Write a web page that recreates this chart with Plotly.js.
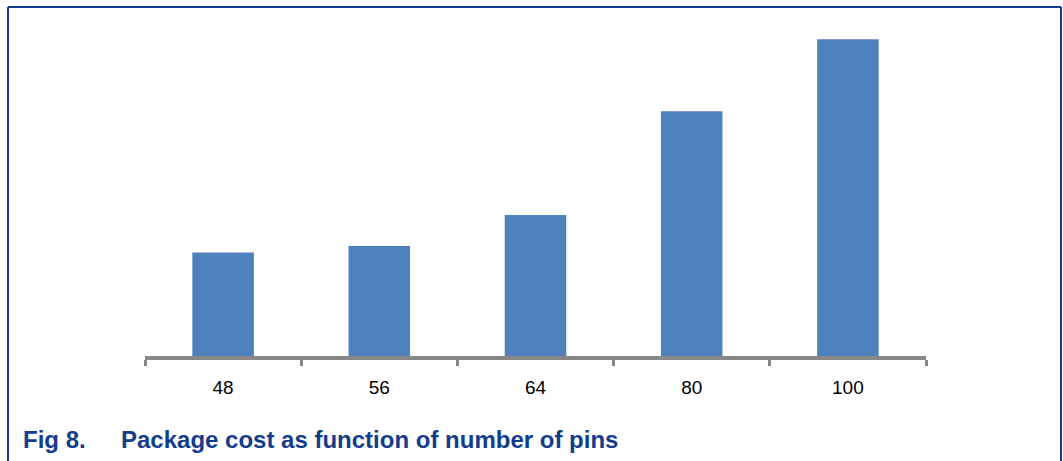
<!DOCTYPE html>
<html>
<head>
<meta charset="utf-8">
<script src="https://cdn.plot.ly/plotly-3.0.1.min.js"></script>
<style>
html,body{margin:0;padding:0;background:#fff;}
#chart{width:1063px;height:461px;}
</style>
</head>
<body>
<div id="chart"></div>
<script>
// Data (relative package cost)
const pins = ["48", "56", "64", "80", "100"];
const cost = [1.0, 1.063, 1.362, 2.367, 3.063];
const captionNum = "Fig 8.";
const captionText = "Package cost as function of number of pins";

const W = 1063, H = 461;
const L = 145, R = 137, T = 26, B = 105;
const pw = W - L - R, ph = H - T - B;
const px = v => (v - L) / pw;
const py = v => (H - B - v) / ph;

const frameColor = "#123C8C";

const trace = {
  type: "bar",
  x: pins,
  y: cost,
  marker: {color: "#4F81BD", line: {width: 0}},
  hoverinfo: "x+y"
};

const layout = {
  width: W, height: H,
  margin: {l: L, r: R, t: T, b: B, pad: 0},
  paper_bgcolor: "#ffffff",
  plot_bgcolor: "#ffffff",
  showlegend: false,
  bargap: 0.606,
  font: {family: "Arial, 'Liberation Sans', sans-serif", color: "#000000"},
  xaxis: {
    type: "category",
    showline: true, linecolor: "#888888", linewidth: 4,
    ticks: "outside", tickson: "boundaries", ticklen: 6, tickwidth: 3, tickcolor: "#888888",
    tickfont: {size: 19, color: "#000000"},
    ticklabelstandoff: 11,
    showgrid: false, zeroline: false, fixedrange: true
  },
  yaxis: {
    range: [0, 3.19],
    visible: false, showgrid: false, zeroline: false, fixedrange: true
  },
  shapes: [
    {type: "line", xref: "paper", yref: "paper", x0: px(8), x1: px(1061), y0: py(7), y1: py(7), line: {color: frameColor, width: 2}},
    {type: "line", xref: "paper", yref: "paper", x0: px(8), x1: px(8), y0: py(7), y1: py(470), line: {color: frameColor, width: 2}},
    {type: "line", xref: "paper", yref: "paper", x0: px(1061), x1: px(1061), y0: py(7), y1: py(470), line: {color: frameColor, width: 2}}
  ],
  annotations: [
    {xref: "paper", yref: "paper", x: px(21), y: py(440), xanchor: "left", yanchor: "middle",
     text: "<b>" + captionNum + "</b>", showarrow: false,
     font: {size: 24, color: frameColor, family: "Arial, 'Liberation Sans', sans-serif"}},
    {xref: "paper", yref: "paper", x: px(119), y: py(440), xanchor: "left", yanchor: "middle",
     text: "<b>" + captionText + "</b>", showarrow: false,
     font: {size: 24, color: frameColor, family: "Arial, 'Liberation Sans', sans-serif"}}
  ]
};

Plotly.newPlot("chart", [trace], layout, {displayModeBar: false, staticPlot: true});
</script>
</body>
</html>
